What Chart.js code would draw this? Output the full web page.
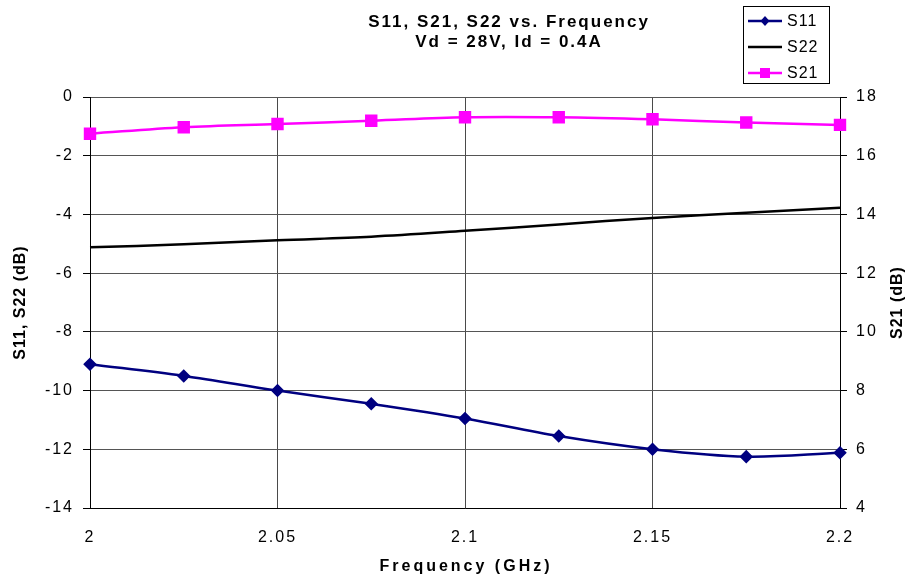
<!DOCTYPE html>
<html>
<head>
<meta charset="utf-8">
<style>
  html, body { margin: 0; padding: 0; background: #fff; }
</style>
<script src="https://cdn.jsdelivr.net/npm/chart.js@4.4.0/dist/chart.umd.min.js"></script>
</head>
<body>
<canvas id="sparamChart" width="909" height="577"></canvas>
<script>
// frequency points (GHz) and measured values (dB)
const freqGHz = [2, 2.025, 2.05, 2.075, 2.1, 2.125, 2.15, 2.175, 2.2];
const s11 = [-9.1, -9.5, -10.0, -10.45, -10.95, -11.55, -12.0, -12.25, -12.12];
const s22 = [-5.12, -5.02, -4.88, -4.76, -4.56, -4.34, -4.12, -3.94, -3.77];
const s21 = [16.75, 16.97, 17.08, 17.19, 17.31, 17.31, 17.24, 17.13, 17.05];

const titleLines = ['S11, S21, S22 vs. Frequency', 'Vd = 28V, Id = 0.4A'];
const xTitle = 'Frequency (GHz)';
const yTitle = 'S11, S22 (dB)';
const y2Title = 'S21 (dB)';

const FONT = '"Liberation Sans", Arial, sans-serif';

function pts(ys) {
    return freqGHz.map((f, i) => ({ x: f, y: ys[i] }));
}

// the old Excel export has wide letter spacing on all text
const spacing = {
    id: 'spacing',
    beforeDraw(chart) {
        chart.ctx.letterSpacing = '2px';
    }
};

// title, axis titles and the boxed legend
const overlay = {
    id: 'overlay',
    afterDraw(chart) {
        const { ctx, chartArea } = chart;
        const midY = (chartArea.top + chartArea.bottom) / 2;
        ctx.save();
        ctx.fillStyle = '#000';
        ctx.textAlign = 'center';
        ctx.textBaseline = 'middle';

        ctx.font = 'bold 17px ' + FONT;
        ctx.letterSpacing = '2px';
        ctx.fillText(titleLines[0], 509, 22);
        ctx.fillText(titleLines[1], 509, 42);

        ctx.font = 'bold 16px ' + FONT;
        ctx.letterSpacing = '3px';
        ctx.fillText(xTitle, (chartArea.left + chartArea.right) / 2 + 1, 567);

        ctx.letterSpacing = '1px';
        ctx.save();
        ctx.translate(21, midY);
        ctx.rotate(-Math.PI / 2);
        ctx.fillText(yTitle, 0, 0);
        ctx.restore();

        ctx.save();
        ctx.translate(898, midY);
        ctx.rotate(-Math.PI / 2);
        ctx.fillText(y2Title, 0, 0);
        ctx.restore();

        // legend box
        ctx.strokeStyle = '#000';
        ctx.lineWidth = 1;
        ctx.strokeRect(743.5, 6.5, 86, 77);
        const rows = [21, 47, 73];
        ctx.font = '16px ' + FONT;
        ctx.letterSpacing = '1px';
        ctx.textAlign = 'left';
        chart.data.datasets.forEach((ds, i) => {
            const y = rows[i];
            ctx.strokeStyle = ds.borderColor;
            ctx.lineWidth = ds.borderWidth;
            ctx.beginPath();
            ctx.moveTo(748, y);
            ctx.lineTo(782, y);
            ctx.stroke();
            ctx.fillStyle = ds.borderColor;
            if (ds.pointStyle === 'rectRot') {
                ctx.beginPath();
                ctx.moveTo(765, y - 5);
                ctx.lineTo(769.5, y);
                ctx.lineTo(765, y + 5);
                ctx.lineTo(760.5, y);
                ctx.closePath();
                ctx.fill();
            } else if (ds.pointStyle === 'rect' && ds.pointRadius > 0) {
                ctx.fillRect(760, y - 5, 10, 10);
            }
            ctx.fillStyle = '#000';
            ctx.fillText(ds.label, 787, y + 1);
        });
        ctx.restore();
    }
};

const ctx = document.getElementById('sparamChart');
const sparamChart = new Chart(ctx, {
    type: 'line',
    data: {
        datasets: [{
            label: 'S11',
            data: pts(s11),
            yAxisID: 'y',
            borderColor: '#000080',
            backgroundColor: '#000080',
            borderWidth: 2.5,
            pointStyle: 'rectRot',
            pointRadius: 5,
            tension: 0.35,
            clip: false
        }, {
            label: 'S22',
            data: pts(s22),
            yAxisID: 'y',
            borderColor: '#000000',
            backgroundColor: '#000000',
            borderWidth: 2.5,
            pointRadius: 0,
            tension: 0.35,
            clip: false
        }, {
            label: 'S21',
            data: pts(s21),
            yAxisID: 'y2',
            borderColor: '#FF00FF',
            backgroundColor: '#FF00FF',
            borderWidth: 2.5,
            pointStyle: 'rect',
            pointRadius: 7,
            tension: 0.35,
            clip: false
        }]
    },
    options: {
        responsive: false,
        animation: false,
        layout: { padding: { top: 97, left: 0, right: 0, bottom: 0 } },
        plugins: {
            legend: { display: false },
            title: { display: false },
            tooltip: { enabled: false }
        },
        scales: {
            x: {
                type: 'linear',
                min: 2,
                max: 2.2,
                afterFit: (s) => { s.height = 69; },
                ticks: {
                    stepSize: 0.05,
                    padding: 20,
                    color: '#000',
                    font: { family: FONT, size: 16 },
                    callback: (v) => String(Number(v.toFixed(2)))
                },
                grid: { color: '#4a4a4a', drawTicks: false },
                border: { color: '#000' }
            },
            y: {
                position: 'left',
                min: -14,
                max: 0,
                afterFit: (s) => { s.width = 90; },
                ticks: {
                    stepSize: 2,
                    padding: 9,
                    color: '#000',
                    font: { family: FONT, size: 16 }
                },
                grid: { color: '#555', tickColor: '#000', tickLength: 7 },
                border: { color: '#000' }
            },
            y2: {
                position: 'right',
                min: 4,
                max: 18,
                afterFit: (s) => { s.width = 69; },
                ticks: {
                    stepSize: 2,
                    padding: 9,
                    color: '#000',
                    font: { family: FONT, size: 16 }
                },
                grid: { drawOnChartArea: false, tickColor: '#000', tickLength: 7 },
                border: { color: '#000' }
            }
        }
    },
    plugins: [spacing, overlay]
});
</script>
</body>
</html>
